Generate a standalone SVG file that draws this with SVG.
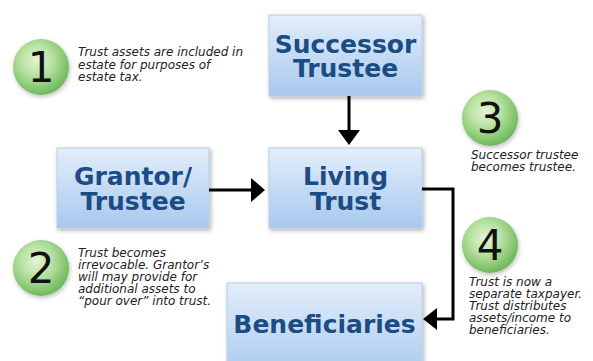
<svg xmlns="http://www.w3.org/2000/svg" width="593" height="361" viewBox="0 0 593 361">
<defs>
<linearGradient id="boxg" x1="0" y1="0" x2="0" y2="1">
<stop offset="0" stop-color="#e2eefb"/>
<stop offset="1" stop-color="#a8c8ee"/>
</linearGradient>
<radialGradient id="ballg" cx="0.42" cy="0.38" r="0.62">
<stop offset="0" stop-color="#e3f4d6"/>
<stop offset="0.45" stop-color="#b9e2a2"/>
<stop offset="1" stop-color="#6fb95a"/>
</radialGradient>
<filter id="sh" x="-10%" y="-10%" width="125%" height="130%">
<feDropShadow dx="1.5" dy="2" stdDeviation="2" flood-color="#000" flood-opacity="0.3"/>
</filter>
<filter id="bsh" x="-20%" y="-20%" width="145%" height="145%">
<feDropShadow dx="1" dy="2" stdDeviation="2" flood-color="#000" flood-opacity="0.25"/>
</filter>
</defs>
<style>
.box{fill:url(#boxg);stroke:#b9cde6;stroke-width:1;filter:url(#sh)}
.bt{font-family:"DejaVu Sans",Verdana,sans-serif;font-weight:bold;font-size:25px;fill:#1b4c83;text-anchor:middle}
.ball{fill:url(#ballg);filter:url(#bsh)}
.num{font-family:"DejaVu Sans",Verdana,sans-serif;font-size:42px;fill:#111;text-anchor:middle}
.note{font-family:"DejaVu Sans",Verdana,sans-serif;font-style:italic;font-size:12px;fill:#222}
.ln{fill:none;stroke:#000;stroke-width:3}
</style>
<rect width="593" height="361" fill="#fff"/>
<g id="successor">
<rect class="box" x="269" y="15" width="153" height="81"/>
<text class="bt" x="345.5" y="53">Successor</text>
<text class="bt" x="345.5" y="77">Trustee</text>
</g>
<g id="grantor">
<rect class="box" x="57" y="148" width="152" height="80"/>
<text class="bt" x="133" y="185">Grantor/</text>
<text class="bt" x="133" y="210">Trustee</text>
</g>
<g id="living">
<rect class="box" x="269" y="148" width="153" height="80"/>
<text class="bt" x="345.5" y="185">Living</text>
<text class="bt" x="345.5" y="210">Trust</text>
</g>
<g id="beneficiaries">
<rect class="box" x="227" y="283" width="195" height="95"/>
<text class="bt" x="324.5" y="333">Beneficiaries</text>
</g>
<g id="connectors">
<line class="ln" x1="349" y1="96" x2="349" y2="131"/>
<polygon points="338,130 360,130 349,145" fill="#000"/>
<line class="ln" x1="209" y1="190" x2="252" y2="190"/>
<polygon points="251,178 251,202 265,190" fill="#000"/>
<polyline class="ln" points="422,189 453,189 453,319 436,319"/>
<polygon points="437,308 437,330 423,319" fill="#000"/>
</g>
<g id="note1">
<circle class="ball" cx="41" cy="67" r="28"/>
<text class="num" x="41" y="82">1</text>
<text class="note" x="78" y="56">Trust assets are included in</text>
<text class="note" x="78" y="69">estate for purposes of</text>
<text class="note" x="78" y="81">estate tax.</text>
</g>
<g id="note2">
<circle class="ball" cx="41" cy="268" r="28"/>
<text class="num" x="41" y="283">2</text>
<text class="note" x="78" y="257">Trust becomes</text>
<text class="note" x="78" y="269">irrevocable. Grantor’s</text>
<text class="note" x="78" y="281">will may provide for</text>
<text class="note" x="78" y="293">additional assets to</text>
<text class="note" x="78" y="305">“pour over” into trust.</text>
</g>
<g id="note3">
<circle class="ball" cx="490" cy="118" r="28"/>
<text class="num" x="490" y="133">3</text>
<text class="note" x="471" y="159">Successor trustee</text>
<text class="note" x="471" y="171">becomes trustee.</text>
</g>
<g id="note4">
<circle class="ball" cx="490" cy="245" r="28"/>
<text class="num" x="490" y="260">4</text>
<text class="note" x="469" y="286">Trust is now a</text>
<text class="note" x="469" y="298">separate taxpayer.</text>
<text class="note" x="469" y="310">Trust distributes</text>
<text class="note" x="469" y="322">assets/income to</text>
<text class="note" x="469" y="334">beneficiaries.</text>
</g>
</svg>
